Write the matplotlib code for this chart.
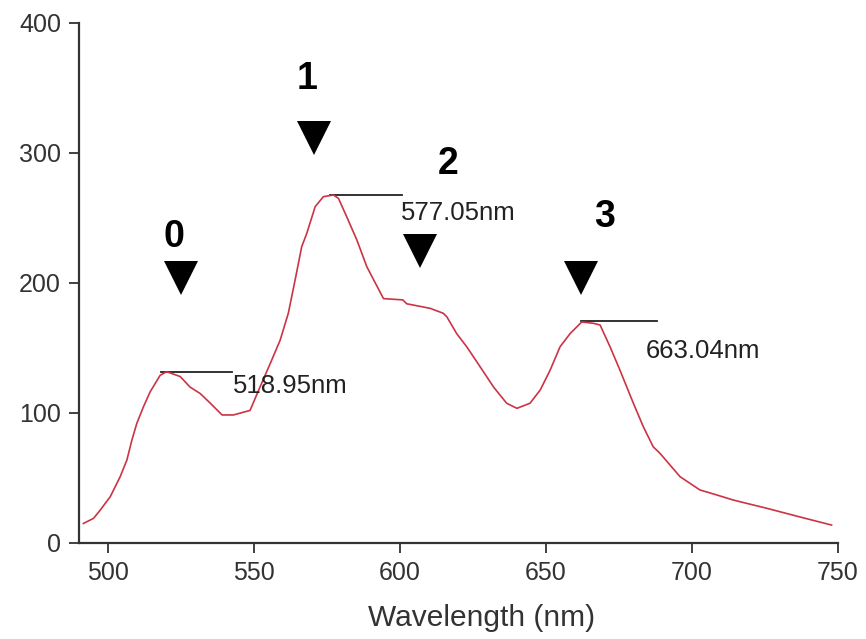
import matplotlib
matplotlib.use("Agg")
import matplotlib.pyplot as plt

plt.rcParams['font.family'] = ['Liberation Sans', 'DejaVu Sans']

# Spectrum (wavelength nm, intensity)
wavelength = [491.5, 495, 497.3, 500.7, 504.1, 506.4, 508.1, 509.8, 512.1, 514.4,
              517.8, 520, 524.7, 528, 531.5, 535, 539, 542.9, 548.6, 552,
              555.5, 558.9, 561.7, 564, 566.3, 568, 570.9, 573.7, 577.2, 578.9,
              581.7, 585.2, 588.6, 594.3, 600.9, 602.3, 610.3, 614.8, 616, 619.4,
              622.8, 627.4, 632, 636.5, 640, 644.5, 648, 651.4, 654.8, 658.2,
              662.2, 666.2, 668.5, 671.9, 675.3, 679.9, 683.3, 686.7, 689, 695.9,
              702.7, 708.4, 714.2, 725.6, 737, 747.8]
intensity = [15, 19, 25.4, 35.6, 51, 63.8, 79, 92, 104.9, 116.4,
             129, 131.8, 128, 120, 115, 107.5, 98.5, 98.5, 102, 120,
             138, 156, 176.7, 202, 228, 238, 258.7, 266.4, 267.7, 265,
             251, 233, 212.5, 188, 187, 184, 180.5, 176.7, 174, 161,
             151, 135.6, 120, 107.5, 103.6, 107.5, 117.7, 133, 151, 161,
             170, 169, 167.7, 151, 133, 107.5, 89.5, 74, 69, 51,
             40.8, 37, 33, 26.7, 20, 13.8]

# Peak markers (arrowheads) and labels
arrow_nm = [524.9, 570.4, 606.7, 662.0]
arrow_val = [204, 311.5, 224.6, 204]
arrow_labels = ['0', '1', '2', '3']
label_nm = [522.6, 568.0, 616.6, 670.2]
label_val = [235.6, 357, 291.5, 251]

# Peak annotation lines and texts
peak_line_start = [518.0, 576.0, 662.0]
peak_line_end = [542.5, 600.6, 688.0]
peak_line_val = [131.5, 267.5, 170.5]
peak_texts = ['518.95nm', '577.05nm', '663.04nm']
peak_text_nm = [542.8, 600.3, 684.0]
peak_text_val = [121.0, 254.0, 148.0]

fig = plt.figure(figsize=(8.66, 6.39), dpi=100)
ax = fig.add_axes([79/866, 1-543/639, (838-79)/866, (543-23)/639])

ax.plot(wavelength, intensity, color='#cc3344', lw=1.2, zorder=3)

for s, e, v in zip(peak_line_start, peak_line_end, peak_line_val):
    ax.plot([s, e], [v, v], color='#222222', lw=1.3, zorder=2)

for x, y, t in zip(peak_text_nm, peak_text_val, peak_texts):
    ax.text(x, y, t, fontsize=18.5, color='#222222', ha='left', va='center')

ax.plot(arrow_nm, arrow_val, linestyle='none', marker='v', ms=25, color='black',
        markeredgewidth=0, zorder=4)
for x, y, t in zip(label_nm, label_val, arrow_labels):
    ax.text(x, y, t, fontsize=27, fontweight='bold', color='black',
            ha='center', va='center')

ax.set_xlim(490, 750)
ax.set_ylim(0, 400)
ax.set_xticks([500, 550, 600, 650, 700, 750])
ax.set_yticks([0, 100, 200, 300, 400])

for s in ['top', 'right']:
    ax.spines[s].set_visible(False)
for s in ['left', 'bottom']:
    ax.spines[s].set_color('#333333')
    ax.spines[s].set_linewidth(1.6)

ax.tick_params(axis='both', direction='out', length=7, width=1.3,
               colors='#333333', labelsize=18, pad=6)
ax.set_xlabel('Wavelength (nm)', fontsize=21.5, color='#333333', va='center')
ax.xaxis.set_label_coords(0.53, -0.1437)

fig.savefig('out.png', dpi=100)
